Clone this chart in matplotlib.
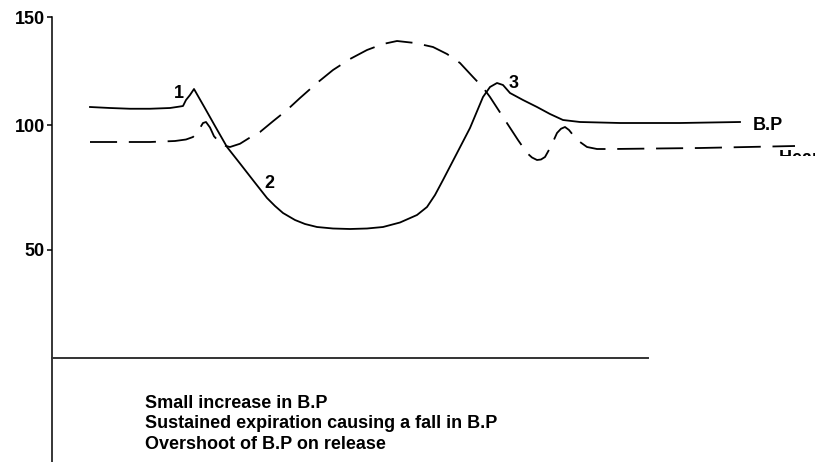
import matplotlib.pyplot as plt
from matplotlib.transforms import Bbox, TransformedBbox

# Blood pressure trace (solid) - time in arbitrary units, pressure on the chart scale
bpTime = [38, 58, 78, 98, 118, 128, 131, 134, 138, 142, 153, 163, 175, 188, 203, 215,
          223, 231, 243, 253, 265, 281, 298, 315, 331, 348, 365, 375, 383, 391, 404, 418,
          431, 438, 445, 451, 458, 471, 485, 498, 511, 528, 548, 568, 628, 688]
bpValue = [107.2, 106.8, 106.5, 106.5, 106.8, 107.4, 107.6, 110.0, 112.0, 114.4, 106.7,
           99.6, 91.2, 84.6, 76.9, 70.8, 67.6, 64.8, 62.0, 60.4, 59.2, 58.6, 58.4, 58.6, 59.2,
           61.0, 64.0, 67.2, 72.0, 78.0, 88.0, 98.8, 111.2, 115.2, 116.8, 116.0, 112.8, 110.0,
           107.2, 104.4, 102.0, 101.2, 101.0, 100.8, 100.8, 101.2]

# Heart rate trace (dashed)
hrTime = [38, 68, 98, 123, 134, 141, 146, 151, 154, 158, 162, 170, 178, 188, 198, 208, 221,
          235, 248, 265, 281, 298, 315, 331, 345, 363, 381, 395, 408, 421, 431, 438, 451,
          466, 475, 480, 485, 489, 493, 499, 505, 509, 513, 517, 521, 528, 535, 545, 561,
          648, 743]
hrValue = [93.2, 93.2, 93.2, 93.6, 94.2, 95.2, 97.5, 100.8, 101.2, 99.0, 95.5, 92.0, 91.2,
           92.5, 95.0, 97.2, 101.5, 106.0, 110.8, 116.8, 122.0, 126.4, 130.0, 132.4, 133.6,
           132.8, 131.2, 128.4, 124.8, 119.2, 115.0, 111.2, 103.2, 94.0, 88.8, 87.0, 86.0,
           86.2, 87.2, 91.5, 96.8, 98.5, 99.2, 98.0, 96.0, 93.2, 91.2, 90.4, 90.4, 90.8, 91.6]

# Tick marks (the hand drawn axis is not linear at the top)
yTickPos = [50, 100, 143.2]
yTickLabels = ["50", "100", "150"]

pointLabels = ["1", "2", "3"]
pointLabelPos = [(127, 110.8), (217, 74.8), (462, 114.8)]

notes = ["Small increase in B.P",
         "Sustained expiration causing a fall in B.P",
         "Overshoot of B.P on release"]

plt.rcParams['font.family'] = ['Liberation Sans', 'DejaVu Sans']
plt.rcParams['font.weight'] = 'bold'

fig = plt.figure(figsize=(8.15, 4.62), dpi=100)
ax = fig.add_axes([52 / 815, 0, 1 - 52 / 815, 1 - 17 / 462])
ax.set_xlim(0, 763)
ax.set_ylim(-34.8, 143.2)

#Кривые
ax.plot(bpTime, bpValue, color="black", linewidth=1.3, solid_joinstyle="round")
ax.plot(hrTime, hrValue, color="black", linewidth=1.3, dashes=(15, 6.5))

#Оси
ax.spines['top'].set_visible(False)
ax.spines['right'].set_visible(False)
ax.spines['left'].set_linewidth(1.1)
ax.spines['bottom'].set_position(('data', 6.8))
ax.spines['bottom'].set_bounds(0, 596)
ax.spines['bottom'].set_linewidth(1.4)
ax.spines['bottom'].set_color("#333333")
ax.set_xticks([])
ax.set_yticks(yTickPos, yTickLabels, fontsize=13, fontweight='bold')
ax.tick_params(axis='y', direction='out', length=3.6, width=1.1, pad=1.5)

#Подписи точек
for label, (x, y) in zip(pointLabels, pointLabelPos):
    ax.text(x, y, label, fontsize=13, fontweight='bold', ha='center', va='baseline')

ax.text(701, 98.0, "B.P", fontsize=13, fontweight='bold', ha='left', va='baseline')

#Подпись обрезана снизу
hr = ax.text(727, 84.8, "Heart rate", fontsize=13, fontweight='bold', ha='left', va='baseline')
hr.set_clip_on(True)
hr.set_clip_box(TransformedBbox(Bbox([[0, (462 - 156) / 462], [1, 1]]), fig.transFigure))

for i, note in enumerate(notes):
    ax.text(93, -13.2 - 8.2 * i, note, fontsize=13, fontweight='bold', ha='left', va='baseline')

fig.savefig("out.png", dpi=100)
